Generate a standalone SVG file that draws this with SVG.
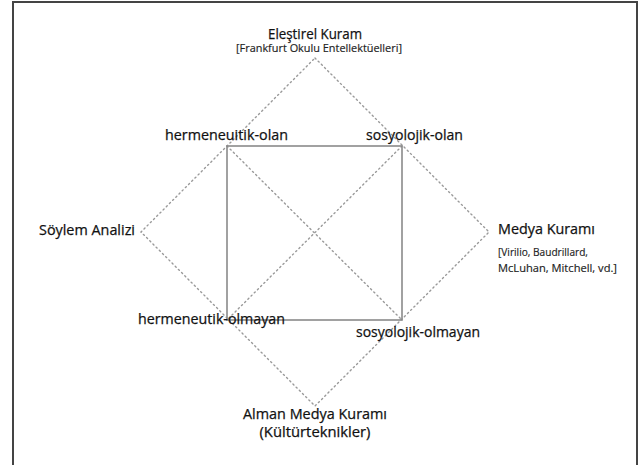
<svg xmlns="http://www.w3.org/2000/svg" width="640" height="465" viewBox="0 0 640 465">
<style>
.frame{fill:none;stroke:#444;stroke-width:2}
.sq{fill:none;stroke:#8a8a8a;stroke-width:1.6}
.dot{fill:none;stroke:#999;stroke-width:1.4;stroke-dasharray:1.3 3.2;stroke-linecap:round}
.lbl{font-family:"Open Sans","Noto Sans",sans-serif;font-size:14.5px;fill:#111;stroke:#111;stroke-width:0.25}
.sub{font-family:"Open Sans","Noto Sans",sans-serif;font-size:10px;fill:#222;stroke:#222;stroke-width:0.15}
</style>
<rect width="640" height="465" fill="#fff"/>
<path class="frame" d="M13 470 V2 H637 V470"/>
<g id="connectors">
<path class="dot" d="M315 58 L489 232 L315 406 L141 232 Z"/>
<line class="dot" x1="227" y1="146" x2="402" y2="320"/>
<line class="dot" x1="402" y1="146" x2="227" y2="320"/>
<rect class="sq" x="227" y="146" width="175" height="174"/>
</g>
<g id="elestirel-kuram">
<text class="lbl" x="315" y="38.5" text-anchor="middle" textLength="94" lengthAdjust="spacingAndGlyphs">Eleştirel Kuram</text>
<text class="sub" x="319" y="52" text-anchor="middle" textLength="166" lengthAdjust="spacingAndGlyphs">[Frankfurt Okulu Entellektüelleri]</text>
</g>
<g id="hermeneuitik-olan">
<text class="lbl" x="165" y="140" textLength="123" lengthAdjust="spacingAndGlyphs">hermeneuitik-olan</text>
</g>
<g id="sosyolojik-olan">
<text class="lbl" x="366" y="140" textLength="97" lengthAdjust="spacingAndGlyphs">sosyolojik-olan</text>
</g>
<g id="soylem-analizi">
<text class="lbl" x="39" y="235" textLength="96" lengthAdjust="spacingAndGlyphs">Söylem Analizi</text>
</g>
<g id="medya-kurami">
<text class="lbl" x="498" y="234" textLength="97" lengthAdjust="spacingAndGlyphs">Medya Kuramı</text>
<text class="sub" x="498" y="256" textLength="90" lengthAdjust="spacingAndGlyphs">[Virilio, Baudrillard,</text>
<text class="sub" x="498" y="271.5" textLength="119" lengthAdjust="spacingAndGlyphs">McLuhan, Mitchell, vd.]</text>
</g>
<g id="hermeneutik-olmayan">
<text class="lbl" x="138" y="324" textLength="147" lengthAdjust="spacingAndGlyphs">hermeneutik-olmayan</text>
</g>
<g id="sosyolojik-olmayan">
<text class="lbl" x="356" y="337" textLength="124" lengthAdjust="spacingAndGlyphs">sosyolojik-olmayan</text>
</g>
<g id="alman-medya-kurami">
<text class="lbl" x="315" y="419" text-anchor="middle" textLength="144" lengthAdjust="spacingAndGlyphs">Alman Medya Kuramı</text>
<text class="lbl" x="315" y="437" text-anchor="middle" textLength="111" lengthAdjust="spacingAndGlyphs">(Kültürteknikler)</text>
</g>
</svg>
